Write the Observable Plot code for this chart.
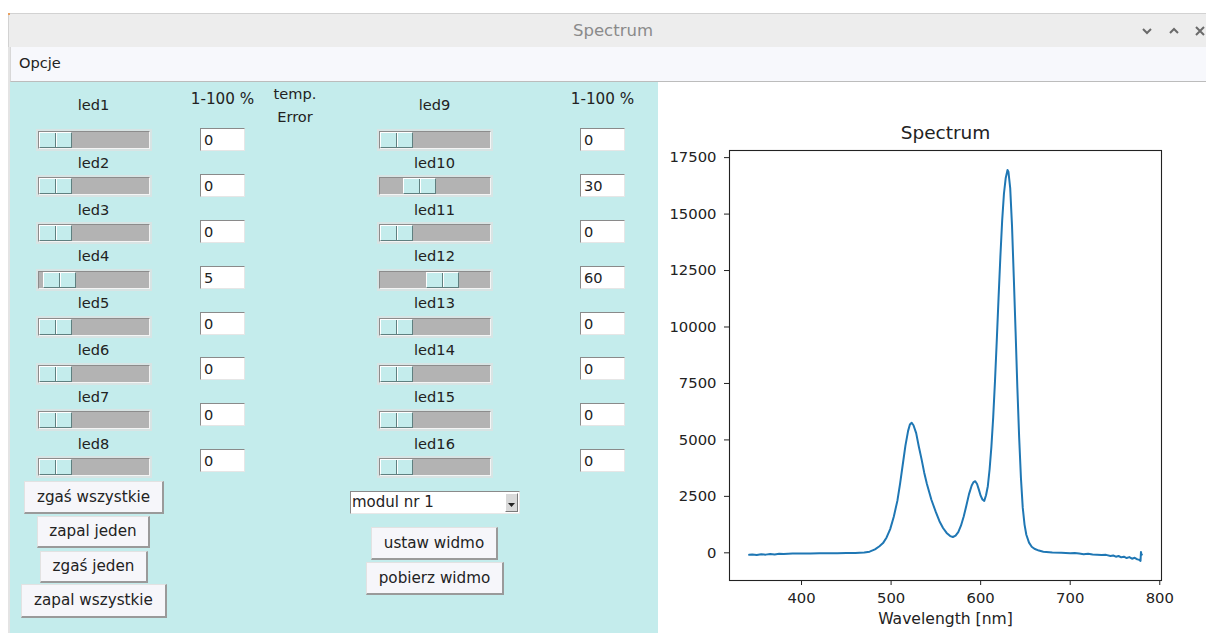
<!DOCTYPE html>
<html>
<head>
<meta charset="utf-8">
<script src="https://cdn.jsdelivr.net/npm/d3@7"></script>
<script src="https://cdn.jsdelivr.net/npm/@observablehq/plot@0.6"></script>
<style>
  html, body { margin:0; padding:0; }
  body { width:1206px; height:633px; position:relative; overflow:hidden; background:#fff;
         font-family:"DejaVu Sans", sans-serif; color:#222; }
  .abs { position:absolute; }
  .lbl { position:absolute; width:120px; text-align:center; font-size:14.6px; line-height:18px; white-space:nowrap; }
  .slider { position:absolute; width:116px; height:22px; background:#d8e4e4; }
  .trough { position:absolute; left:2px; top:2px; width:110px; height:16px; background:#b3b3b3;
            border-top:1px solid #8c8c8c; border-left:1px solid #8c8c8c; border-right:1px solid #f4f4f4; border-bottom:1px solid #f4f4f4; }
  .thumb { position:absolute; top:0px; width:31px; height:14px; background:#c4ecec;
           border-top:1px solid #fff; border-left:1px solid #fff; border-right:1px solid #5f8080; border-bottom:1px solid #5f8080; }
  .thumb .div1 { position:absolute; left:15px; top:0; width:1px; height:14px; background:#5f8080; }
  .thumb .div2 { position:absolute; left:16px; top:0; width:1px; height:14px; background:#fff; }
  .entry { position:absolute; width:40px; height:21px; background:#fff; font-size:14.6px; line-height:21px;
           border-top:1px solid #8a8a8a; border-left:1px solid #8a8a8a; border-right:1px solid #e6e6e6; border-bottom:1px solid #e6e6e6;
           padding-left:3px; box-sizing:content-box; }
  .btn { position:absolute; background:#f6f6fa; font-size:15.2px; text-align:center; white-space:nowrap;
         border-top:1px solid #e2e2e2; border-left:1px solid #e2e2e2; border-right:2px solid #9a9a9a; border-bottom:2px solid #9a9a9a; box-sizing:border-box; }
</style>
</head>
<body>
<script>
// ---------- data ----------
const windowTitle = "Spectrum";
const menuLabel = "Opcje";
const leftNames = ["led1","led2","led3","led4","led5","led6","led7","led8"];
const leftValues = [0, 0, 0, 5, 0, 0, 0, 0];
const rightNames = ["led9","led10","led11","led12","led13","led14","led15","led16"];
const rightValues = [0, 30, 0, 60, 0, 0, 0, 0];
const rangeHeader = "1-100 %";
const tempLines = ["temp.", "Error"];
const leftButtons = ["zgaś wszystkie", "zapal jeden", "zgaś jeden", "zapal wszystkie"];
const comboText = "modul nr 1";
const rightButtons = ["ustaw widmo", "pobierz widmo"];

const chartTitle = "Spectrum";
const xLabel = "Wavelength [nm]";
const xTicks = [400, 500, 600, 700, 800];
const yTicks = [0, 2500, 5000, 7500, 10000, 12500, 15000, 17500];
const wavelength = [341.5,345,350,355,360,365,370,375,380,390,400,410,420,430,440,450,460,470,476,482,487,491,495,499,503,507,510,513,516,519,521,523,525,528,531,534,537,540,545,550,554,558,562,566,569,572,575,578,581,584,587,590,592,594,596,598,600,602,604,606,608,610,612,614,616,618,620,622,624,626,628,630,631,633,635,637,639,641,643,645,647,649,651,654,657,660,665,670,680,690,700,705,710,715,720,725,730,735,740,745,748,751,754,757,760,763,766,769,772,775,777,778.5,779,779.5,780];
const intensity = [-90,-70,-95,-60,-80,-55,-70,-45,-50,-30,-25,-30,-20,-15,-15,-10,-10,10,50,150,290,430,680,1050,1600,2300,3050,3900,4750,5400,5680,5760,5650,5300,4700,4150,3550,3050,2350,1800,1400,1100,880,740,700,760,920,1200,1600,2080,2600,2980,3130,3170,3050,2800,2530,2360,2300,2550,2950,3700,4700,6000,7600,9400,11300,13100,14700,15900,16600,16950,16880,16150,14500,12200,9800,7300,5100,3300,2000,1250,800,450,270,180,100,50,10,0,-20,-10,-35,-60,-40,-70,-85,-100,-90,-140,-120,-170,-140,-200,-170,-230,-190,-260,-220,-290,-310,-360,40,-60,-80];

// ---------- window chrome ----------
function el(tag, cls, style, text) {
  const e = document.createElement(tag);
  if (cls) e.className = cls;
  Object.assign(e.style, style || {});
  if (text != null) e.textContent = text;
  document.body.appendChild(e);
  return e;
}
el("div", "abs", {left:"8px", top:"13px", width:"1198px", height:"34px", background:"#ededed", borderTop:"1px solid #d2d2d2", borderLeft:"1px solid #d2d2d2", boxSizing:"border-box"});
el("div", "abs", {left:"8px", top:"13px", width:"2px", height:"2px", background:"#e8a060"});
el("div", "abs", {left:"513px", top:"21px", width:"200px", textAlign:"center", fontSize:"16.5px", lineHeight:"20px", color:"#8a8a8a"}, windowTitle);
const icons = document.createElementNS("http://www.w3.org/2000/svg","svg");
icons.setAttribute("width","70"); icons.setAttribute("height","20");
Object.assign(icons.style, {position:"absolute", left:"1138px", top:"22px"});
icons.innerHTML = '<polyline points="5,7 9,11 13,7" fill="none" stroke="#6a6a6a" stroke-width="2"/>' +
  '<polyline points="32,11 36,7 40,11" fill="none" stroke="#6a6a6a" stroke-width="2"/>' +
  '<path d="M58,5 L66,13 M66,5 L58,13" stroke="#6a6a6a" stroke-width="2"/>';
document.body.appendChild(icons);
el("div", "abs", {left:"10px", top:"47px", width:"1196px", height:"35px", background:"#f7f8fc", borderBottom:"1px solid #bcbcbc", borderLeft:"1px solid #d8d8d8", boxSizing:"border-box"});
el("div", "abs", {left:"19px", top:"54px", fontSize:"14.6px", lineHeight:"18px"}, menuLabel);
el("div", "abs", {left:"8px", top:"47px", width:"2px", height:"586px", background:"#e4e4e4"});
el("div", "abs", {left:"10px", top:"82px", width:"648px", height:"551px", background:"#c4ecec"});

// ---------- controls ----------
function label(cx, cy, text, size) {
  const d = el("div", "lbl", {left:(cx-60)+"px", top:(cy-9)+"px"}, text);
  if (size) d.style.fontSize = size;
}
function slider(left, cy, value) {
  const s = el("div", "slider", {left:left+"px", top:(cy-11)+"px"});
  const t = document.createElement("div"); t.className = "trough"; s.appendChild(t);
  const th = document.createElement("div"); th.className = "thumb";
  th.style.left = Math.round(value/100*77) + "px";
  th.innerHTML = '<div class="div1"></div><div class="div2"></div>';
  t.appendChild(th);
}
function entry(left, cy, text) {
  el("div", "entry", {left:left+"px", top:(cy-11.5)+"px"}, String(text));
}
label(222.5, 99, rangeHeader, "15.2px");
label(602.5, 99, rangeHeader, "15.2px");
label(295, 94, tempLines[0]);
label(295, 117, tempLines[1]);
for (let i = 0; i < 8; i++) {
  const lcy = i === 0 ? 105 : 162.7 + (i-1)*46.8;
  const scy = 139.5 + i*46.8;
  const ecy = 139.7 + i*45.85;
  label(93.5, lcy, leftNames[i]);
  slider(36, scy, leftValues[i]);
  entry(200, ecy, leftValues[i]);
  label(434.5, lcy, rightNames[i]);
  slider(377, scy, rightValues[i]);
  entry(580, ecy, rightValues[i]);
}
function button(x0, y0, x1, y1, text) {
  el("div", "btn", {left:x0+"px", top:y0+"px", width:(x1-x0)+"px", height:(y1-y0)+"px", lineHeight:(y1-y0-3)+"px"}, text);
}
button(24, 481, 164, 514, leftButtons[0]);
button(37, 516, 150, 548, leftButtons[1]);
button(40, 551, 148, 583, leftButtons[2]);
button(21, 584, 167, 618, leftButtons[3]);
button(371, 527, 498, 560, rightButtons[0]);
button(366, 562, 504, 595, rightButtons[1]);
el("div", "abs", {left:"350px", top:"491px", width:"170px", height:"23px", background:"#fff", boxSizing:"border-box",
  borderTop:"1px solid #8a8a8a", borderLeft:"1px solid #8a8a8a", borderRight:"1px solid #e8e8e8", borderBottom:"1px solid #e8e8e8"});
el("div", "abs", {left:"352px", top:"493px", fontSize:"15px", lineHeight:"19px"}, comboText);
el("div", "abs", {left:"505px", top:"493px", width:"13px", height:"19px", background:"#d9d9d9", boxSizing:"border-box",
  borderTop:"1px solid #fff", borderLeft:"1px solid #fff", borderRight:"1px solid #7a7a7a", borderBottom:"1px solid #7a7a7a"});
const arrow = document.createElementNS("http://www.w3.org/2000/svg","svg");
arrow.setAttribute("width","13"); arrow.setAttribute("height","19");
Object.assign(arrow.style, {position:"absolute", left:"505px", top:"493px"});
arrow.innerHTML = '<path d="M3,10 L10,10 L6.5,14 Z" fill="#222"/>';
document.body.appendChild(arrow);

// ---------- chart ----------
const data = wavelength.map((w, i) => ({w, v: intensity[i]}));
const [x0, x1] = d3.extent(wavelength), [y0, y1] = d3.extent(intensity);
const xPad = 0.05*(x1-x0), yPad = 0.05*(y1-y0);
const fmt = d3.format("d");
const chart = Plot.plot({
  width: 546, height: 523,
  marginLeft: 69, marginRight: 45, marginTop: 40, marginBottom: 53,
  style: {fontFamily: "DejaVu Sans", fontSize: "14.8px", color: "#222", background: "transparent", overflow: "visible"},
  x: {domain: [x0 - xPad, x1 + xPad], label: null},
  y: {domain: [y0 - yPad, y1 + yPad], label: null},
  marks: [
    Plot.axisX({ticks: xTicks, tickSize: 5, tickPadding: 7, tickFormat: fmt, label: null}),
    Plot.axisY({ticks: yTicks, tickSize: 5, tickPadding: 8, tickFormat: fmt, label: null}),
    Plot.line(data, {x: "w", y: "v", stroke: "#1f77b4", strokeWidth: 2}),
    Plot.frame({stroke: "#222", strokeWidth: 1.1}),
    Plot.text([chartTitle], {frameAnchor: "top", dy: -17, fontSize: 18.5, lineAnchor: "middle", fill: "#222"}),
    Plot.text([xLabel], {frameAnchor: "bottom", dy: 38, fontSize: 15.6, lineAnchor: "middle", fill: "#222"})
  ]
});
Object.assign(chart.style, {position: "absolute", left: "660px", top: "110px"});
document.body.appendChild(chart);
</script>
</body>
</html>
